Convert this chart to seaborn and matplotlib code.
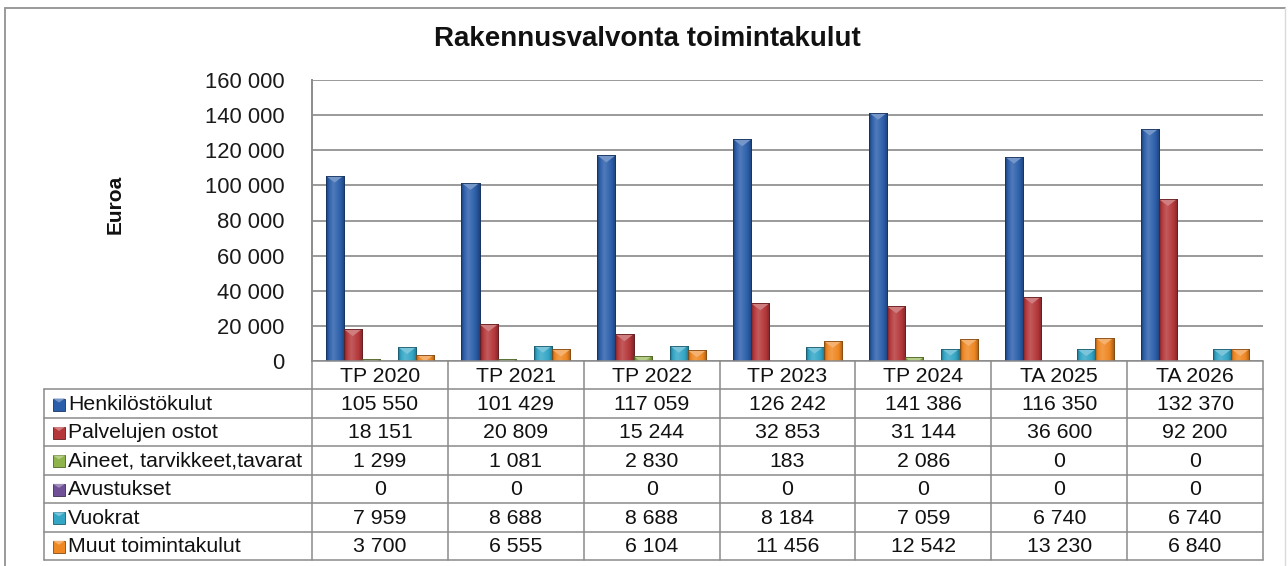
import numpy as np
import pandas as pd
import matplotlib
matplotlib.use("Agg")
import matplotlib.pyplot as plt
from matplotlib import transforms
from matplotlib.colors import LinearSegmentedColormap, to_rgb
from matplotlib.lines import Line2D
from matplotlib.patches import Rectangle, Polygon
import seaborn as sns

# ---- data -------------------------------------------------------------
categories = ["TP 2020", "TP 2021", "TP 2022", "TP 2023", "TP 2024", "TA 2025", "TA 2026"]
series_names = ["Henkilöstökulut", "Palvelujen ostot", "Aineet, tarvikkeet,tavarat",
                "Avustukset", "Vuokrat", "Muut toimintakulut"]
henkilostokulut = [105550, 101429, 117059, 126242, 141386, 116350, 132370]
palvelujen_ostot = [18151, 20809, 15244, 32853, 31144, 36600, 92200]
aineet = [1299, 1081, 2830, 183, 2086, 0, 0]
avustukset = [0, 0, 0, 0, 0, 0, 0]
vuokrat = [7959, 8688, 8688, 8184, 7059, 6740, 6740]
muut = [3700, 6555, 6104, 11456, 12542, 13230, 6840]
series_values = [henkilostokulut, palvelujen_ostot, aineet, avustukset, vuokrat, muut]
y_ticks = [0, 20000, 40000, 60000, 80000, 100000, 120000, 140000, 160000]

series_colors = ["#2B5EAA", "#B5373A", "#8FB34B", "#6F5097", "#33A6C6", "#EF8722"]

df = pd.DataFrame({
    "Vuosi": np.tile(categories, len(series_names)),
    "Erä": np.repeat(series_names, len(categories)),
    "Euroa": np.concatenate(series_values),
})


def fmt(v):
    return f"{v:,}".replace(",", " ")


def mix(c, other, t):
    c = np.array(to_rgb(c)); o = np.array(to_rgb(other))
    return tuple(c + (o - c) * t)


# ---- figure -----------------------------------------------------------
W, H = 1288, 566
sns.set_style("white")
plt.rcParams["font.family"] = ["Liberation Sans", "DejaVu Sans"]

fig = plt.figure(figsize=(W / 100, H / 100), dpi=100)
fig.patch.set_facecolor("white")

# pixel transform (origin top-left)
px = transforms.Affine2D().scale(1 / W, -1 / H).translate(0, 1) + fig.transFigure

ax_left, ax_top, ax_right, ax_bottom = 312, 80, 1263, 361
ax = fig.add_axes([ax_left / W, 1 - ax_bottom / H, (ax_right - ax_left) / W, (ax_bottom - ax_top) / H])

sns.barplot(data=df, x="Vuosi", y="Euroa", hue="Erä", hue_order=series_names,
            order=categories, palette=series_colors, saturation=1, width=0.8,
            legend=False, ax=ax, zorder=3)

ax.set_xlim(-0.5, len(categories) - 0.5)
ax.set_ylim(0, 160000)
ax.set_yticks(y_ticks)
ax.set_yticklabels([fmt(t) for t in y_ticks])
ax.set_xticks([])
ax.set_xlabel("")
ax.set_ylabel("")
ax.tick_params(axis="y", length=0, pad=20, labelsize=15.8, labelcolor="#1a1a1a")
ax.yaxis.grid(True, color="#9A9A9A", linewidth=1.4)
ax.set_axisbelow(True)
for s in ["top", "right", "bottom"]:
    ax.spines[s].set_visible(False)
ax.spines["left"].set_color("#8C8C8C")
ax.spines["left"].set_linewidth(1.4)

# cylinder-like shading and bevelled tops on the bars
px_per_unit = (ax_bottom - ax_top) / 160000.0
bevel = 7 / px_per_unit
grad = np.linspace(0, 1, 64).reshape(1, -1)
for cont, col in zip(ax.containers, series_colors):
    dark = mix(col, "black", 0.38)
    light = mix(col, "white", 0.18)
    cmap = LinearSegmentedColormap.from_list(
        "bar", [(0, dark), (0.14, col), (0.38, light), (0.78, col), (1, mix(col, "black", 0.3))])
    top_col = mix(col, "white", 0.35)
    for bar in cont.patches:
        h = bar.get_height()
        if not h or h <= 0:
            continue
        x0, w = bar.get_x(), bar.get_width()
        bar.set_edgecolor(mix(col, "black", 0.45))
        bar.set_linewidth(0.6)
        im = ax.imshow(grad, extent=(x0, x0 + w, 0, h), aspect="auto", cmap=cmap,
                       origin="lower", interpolation="bicubic", zorder=3.1)
        im.set_clip_path(bar)
        tri = Polygon([(x0, h), (x0 + w, h), (x0 + w / 2, h - bevel)], closed=True,
                      facecolor=top_col, edgecolor="none", zorder=3.2)
        ax.add_patch(tri)
        tri.set_clip_path(bar)
        outline = Rectangle((x0, 0), w, h, fill=False, edgecolor=mix(col, "black", 0.45),
                            linewidth=0.6, zorder=3.3)
        ax.add_patch(outline)
ax.set_xlim(-0.5, len(categories) - 0.5)
ax.set_ylim(0, 160000)

# ---- data table -------------------------------------------------------
line_col = "#8A8A8A"
lw = 1.1
xy = transforms.blended_transform_factory(ax.transData, px)
edges = np.arange(len(categories) + 1) - 0.5

header_top, header_bot = 361, 389.3
row_h = (560 - header_bot) / len(series_names)
row_edges = [header_bot + i * row_h for i in range(len(series_names) + 1)]
label_left = 44

fig.add_artist(Line2D([edges[0], edges[-1]], [header_top, header_top], transform=xy,
                      color=line_col, lw=lw))
for y in row_edges:
    fig.add_artist(Line2D([label_left, ax_right], [y, y], transform=px, color=line_col, lw=lw))
for xe in edges:
    fig.add_artist(Line2D([xe, xe], [header_top, row_edges[-1]], transform=xy,
                          color=line_col, lw=lw))
fig.add_artist(Line2D([label_left, label_left], [header_bot, row_edges[-1]], transform=px,
                      color=line_col, lw=lw))

table_fs = 15.3
for i, cat in enumerate(categories):
    fig.text(i, (header_top + header_bot) / 2 + 1, cat, transform=xy, ha="center",
             va="center", fontsize=table_fs, color="#111111")

for r, (name, vals, col) in enumerate(zip(series_names, series_values, series_colors)):
    yc = (row_edges[r] + row_edges[r + 1]) / 2 + 1
    key = Rectangle((53, yc - 6), 12, 12, transform=px, facecolor=col,
                    edgecolor=mix(col, "black", 0.45), linewidth=0.6)
    fig.add_artist(key)
    fig.add_artist(Polygon([(53, yc - 6), (65, yc - 6), (59, yc - 2)], closed=True,
                           transform=px, facecolor=mix(col, "white", 0.35), edgecolor="none"))
    fig.text(68, yc, name, transform=px, ha="left", va="center", fontsize=table_fs,
             color="#111111")
    for i, v in enumerate(vals):
        fig.text(i, yc, fmt(v), transform=xy, ha="center", va="center",
                 fontsize=table_fs, color="#111111")

# ---- titles and outer frame --------------------------------------------
fig.text(647, 39, "Rakennusvalvonta toimintakulut", transform=px, ha="center",
         va="center", fontsize=20, fontweight="bold", color="#111111")
fig.text(115, 204, "Euroa", transform=px, rotation=90, ha="center", va="center",
         fontsize=15, fontweight="bold", color="#111111")

fig.add_artist(Line2D([5, 1285], [8, 8], transform=px, color="#9A9A9A", lw=1.4))
fig.add_artist(Line2D([5, 5], [8, H], transform=px, color="#9A9A9A", lw=1.4))
fig.add_artist(Line2D([1285, 1285], [8, H], transform=px, color="#DADADA", lw=1.0))

fig.savefig("out.png", dpi=100, facecolor="white")
